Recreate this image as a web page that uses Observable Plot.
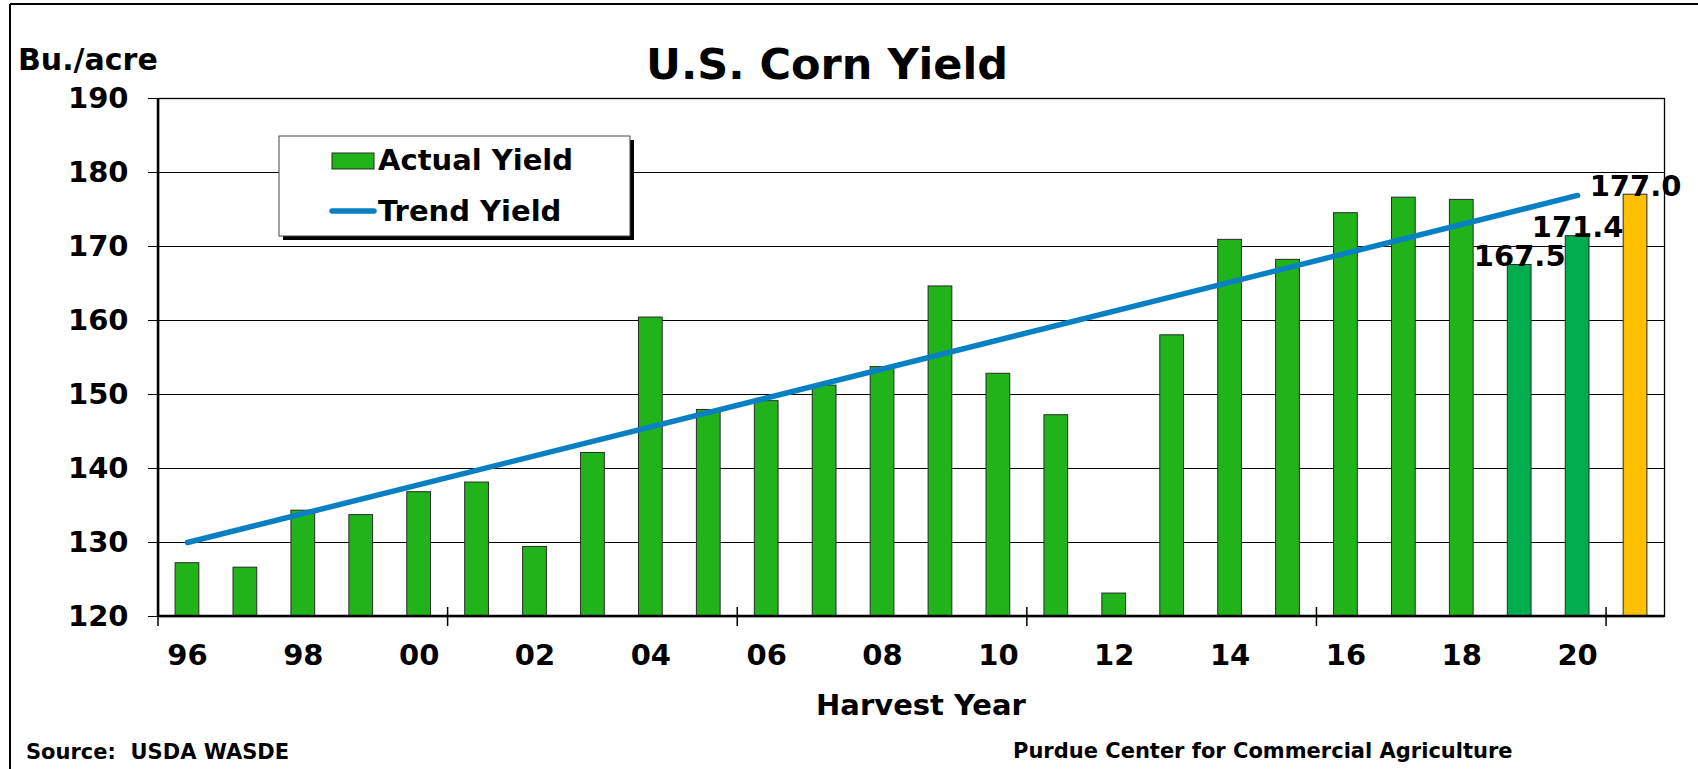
<!DOCTYPE html>
<html>
<head>
<meta charset="utf-8">
<script src="https://cdn.jsdelivr.net/npm/d3@7"></script>
<script src="https://cdn.jsdelivr.net/npm/@observablehq/plot@0.6"></script>
<style>
html, body { margin: 0; padding: 0; background: #fff; }
svg text { white-space: pre; }
</style>
</head>
<body>
<div id="chart"></div>
<script>
// ---- data ----
const years = ["96","97","98","99","00","01","02","03","04","05","06","07","08","09","10","11","12","13","14","15","16","17","18","19","20","21"];
const yields = [127.2,126.6,134.3,133.7,136.8,138.1,129.4,142.1,160.4,147.9,149.1,151.2,153.7,164.6,152.8,147.2,123.1,158.0,170.9,168.2,174.5,176.6,176.3,167.5,171.4,177.0];
const groups = ["actual","actual","actual","actual","actual","actual","actual","actual","actual","actual","actual","actual","actual","actual","actual","actual","actual","actual","actual","actual","actual","actual","actual","recent","recent","projected"];
const groupNames = ["actual","recent","projected"];
const groupColors = ["#20B41A","#00AC4E","#FFC000"];
const trendYears = ["96","20"];
const trendValues = [130.0, 176.9];
const labelYears = ["19","20","21"];
const labelValues = [167.5, 171.4, 177.0];
const labelTexts = ["167.5","171.4","177.0"];
const yTicks = [120,130,140,150,160,170,180,190];
const xTickLabels = ["96","98","00","02","04","06","08","10","12","14","16","18","20"];
const boundaryYears = ["96","01","06","11","16","21"];
const titleText = "U.S. Corn Yield";
const yUnitText = "Bu./acre";
const xTitleText = "Harvest Year";
const sourceText = "Source:  USDA WASDE";
const creditText = "Purdue Center for Commercial Agriculture";
const legendLabels = ["Actual Yield", "Trend Yield"];

// ---- tables ----
const bars = years.map((y, i) => ({year: y, value: yields[i], group: groups[i]}));
const trend = trendYears.map((y, i) => ({year: y, value: trendValues[i]}));
const labels = labelYears.map((y, i) => ({year: y, value: labelValues[i], text: labelTexts[i]}));

const FONT = "'DejaVu Sans', Verdana, sans-serif";
const trendColor = "#0A80C4";

const chart = Plot.plot({
  width: 1698,
  height: 769,
  marginLeft: 158,
  marginRight: 34,
  marginTop: 98,
  marginBottom: 153,
  style: {fontFamily: FONT, fontWeight: "bold", fontSize: "29px", color: "#000", background: "#fff"},
  x: {type: "band", domain: years, paddingInner: 0.59, paddingOuter: 0.295, round: false, label: null},
  y: {domain: [120, 190], label: null},
  color: {domain: groupNames, range: groupColors},
  marks: [
    Plot.gridY(yTicks, {stroke: "#000", strokeOpacity: 1, strokeWidth: 1}),
    Plot.barY(bars, {x: "year", y1: 120, y2: "value", fill: "group", stroke: "#2a2a2a", strokeWidth: 1}),
    Plot.line(trend, {x: "year", y: "value", stroke: trendColor, strokeWidth: 5.5, strokeLinecap: "round"}),
    Plot.text(labels, {x: "year", y: "value", text: "text", lineAnchor: "bottom", dy: 1, fontSize: 29, fontWeight: "bold", fill: "#000"}),
    Plot.frame({stroke: "#000", strokeWidth: 1.3}),
    Plot.axisY({ticks: yTicks, tickSize: 10, tickPadding: 20, fontSize: 29, fontWeight: "bold", label: null, stroke: "#000"}),
    Plot.axisX({ticks: xTickLabels, tickSize: 0, tickPadding: 28, fontSize: 29, fontWeight: "bold", label: null})
  ]
});

document.getElementById("chart").appendChild(chart);

const svg = d3.select(chart);
const xs = chart.scale("x");
const ys = chart.scale("y");
const x0 = xs.range[0], x1 = xs.range[1];
const yBase = ys.apply(120), yTop = ys.apply(190);

// axis lines
svg.append("line").attr("x1", x0).attr("x2", x0).attr("y1", yTop).attr("y2", yBase + 1)
  .attr("stroke", "#000").attr("stroke-width", 2.5);
svg.append("line").attr("x1", x0).attr("x2", x1).attr("y1", yBase).attr("y2", yBase)
  .attr("stroke", "#000").attr("stroke-width", 2.5);

// category boundary ticks
const gap = (xs.step - xs.bandwidth) / 2;
boundaryYears.forEach(c => {
  const bx = xs.apply(c) - gap;
  svg.append("line").attr("x1", bx).attr("x2", bx).attr("y1", yBase - 9).attr("y2", yBase + 10)
    .attr("stroke", "#000").attr("stroke-width", 1.5);
});

// outer border (top & left)
svg.append("line").attr("x1", 10).attr("x2", 1698).attr("y1", 4).attr("y2", 4).attr("stroke", "#000").attr("stroke-width", 2);
svg.append("line").attr("x1", 10).attr("x2", 10).attr("y1", 4).attr("y2", 769).attr("stroke", "#000").attr("stroke-width", 2);

function addText(parent, txt, x, y, size, anchor) {
  parent.append("text").attr("x", x).attr("y", y).attr("font-size", size)
    .attr("font-family", FONT).attr("font-weight", "bold").attr("fill", "#000")
    .attr("text-anchor", anchor).text(txt);
}
addText(svg, titleText, 827, 79, 43, "middle");
addText(svg, yUnitText, 18, 70, 30, "start");
addText(svg, xTitleText, 921, 715, 29, "middle");
addText(svg, sourceText, 26, 759, 21, "start");
addText(svg, creditText, 1013, 758, 21, "start");

// legend
const lg = svg.append("g");
lg.append("rect").attr("x", 283).attr("y", 140).attr("width", 351).attr("height", 100).attr("fill", "#000");
lg.append("rect").attr("x", 279).attr("y", 136).attr("width", 351).attr("height", 100).attr("fill", "#fff").attr("stroke", "#444").attr("stroke-width", 1);
lg.append("rect").attr("x", 332).attr("y", 153).attr("width", 42).attr("height", 16).attr("fill", groupColors[0]).attr("stroke", "#2a2a2a").attr("stroke-width", 1);
lg.append("line").attr("x1", 332).attr("x2", 374).attr("y1", 211).attr("y2", 211).attr("stroke", trendColor).attr("stroke-width", 5.5).attr("stroke-linecap", "round");
addText(lg, legendLabels[0], 378, 170, 29, "start");
addText(lg, legendLabels[1], 378, 221, 29, "start");
</script>
</body>
</html>
